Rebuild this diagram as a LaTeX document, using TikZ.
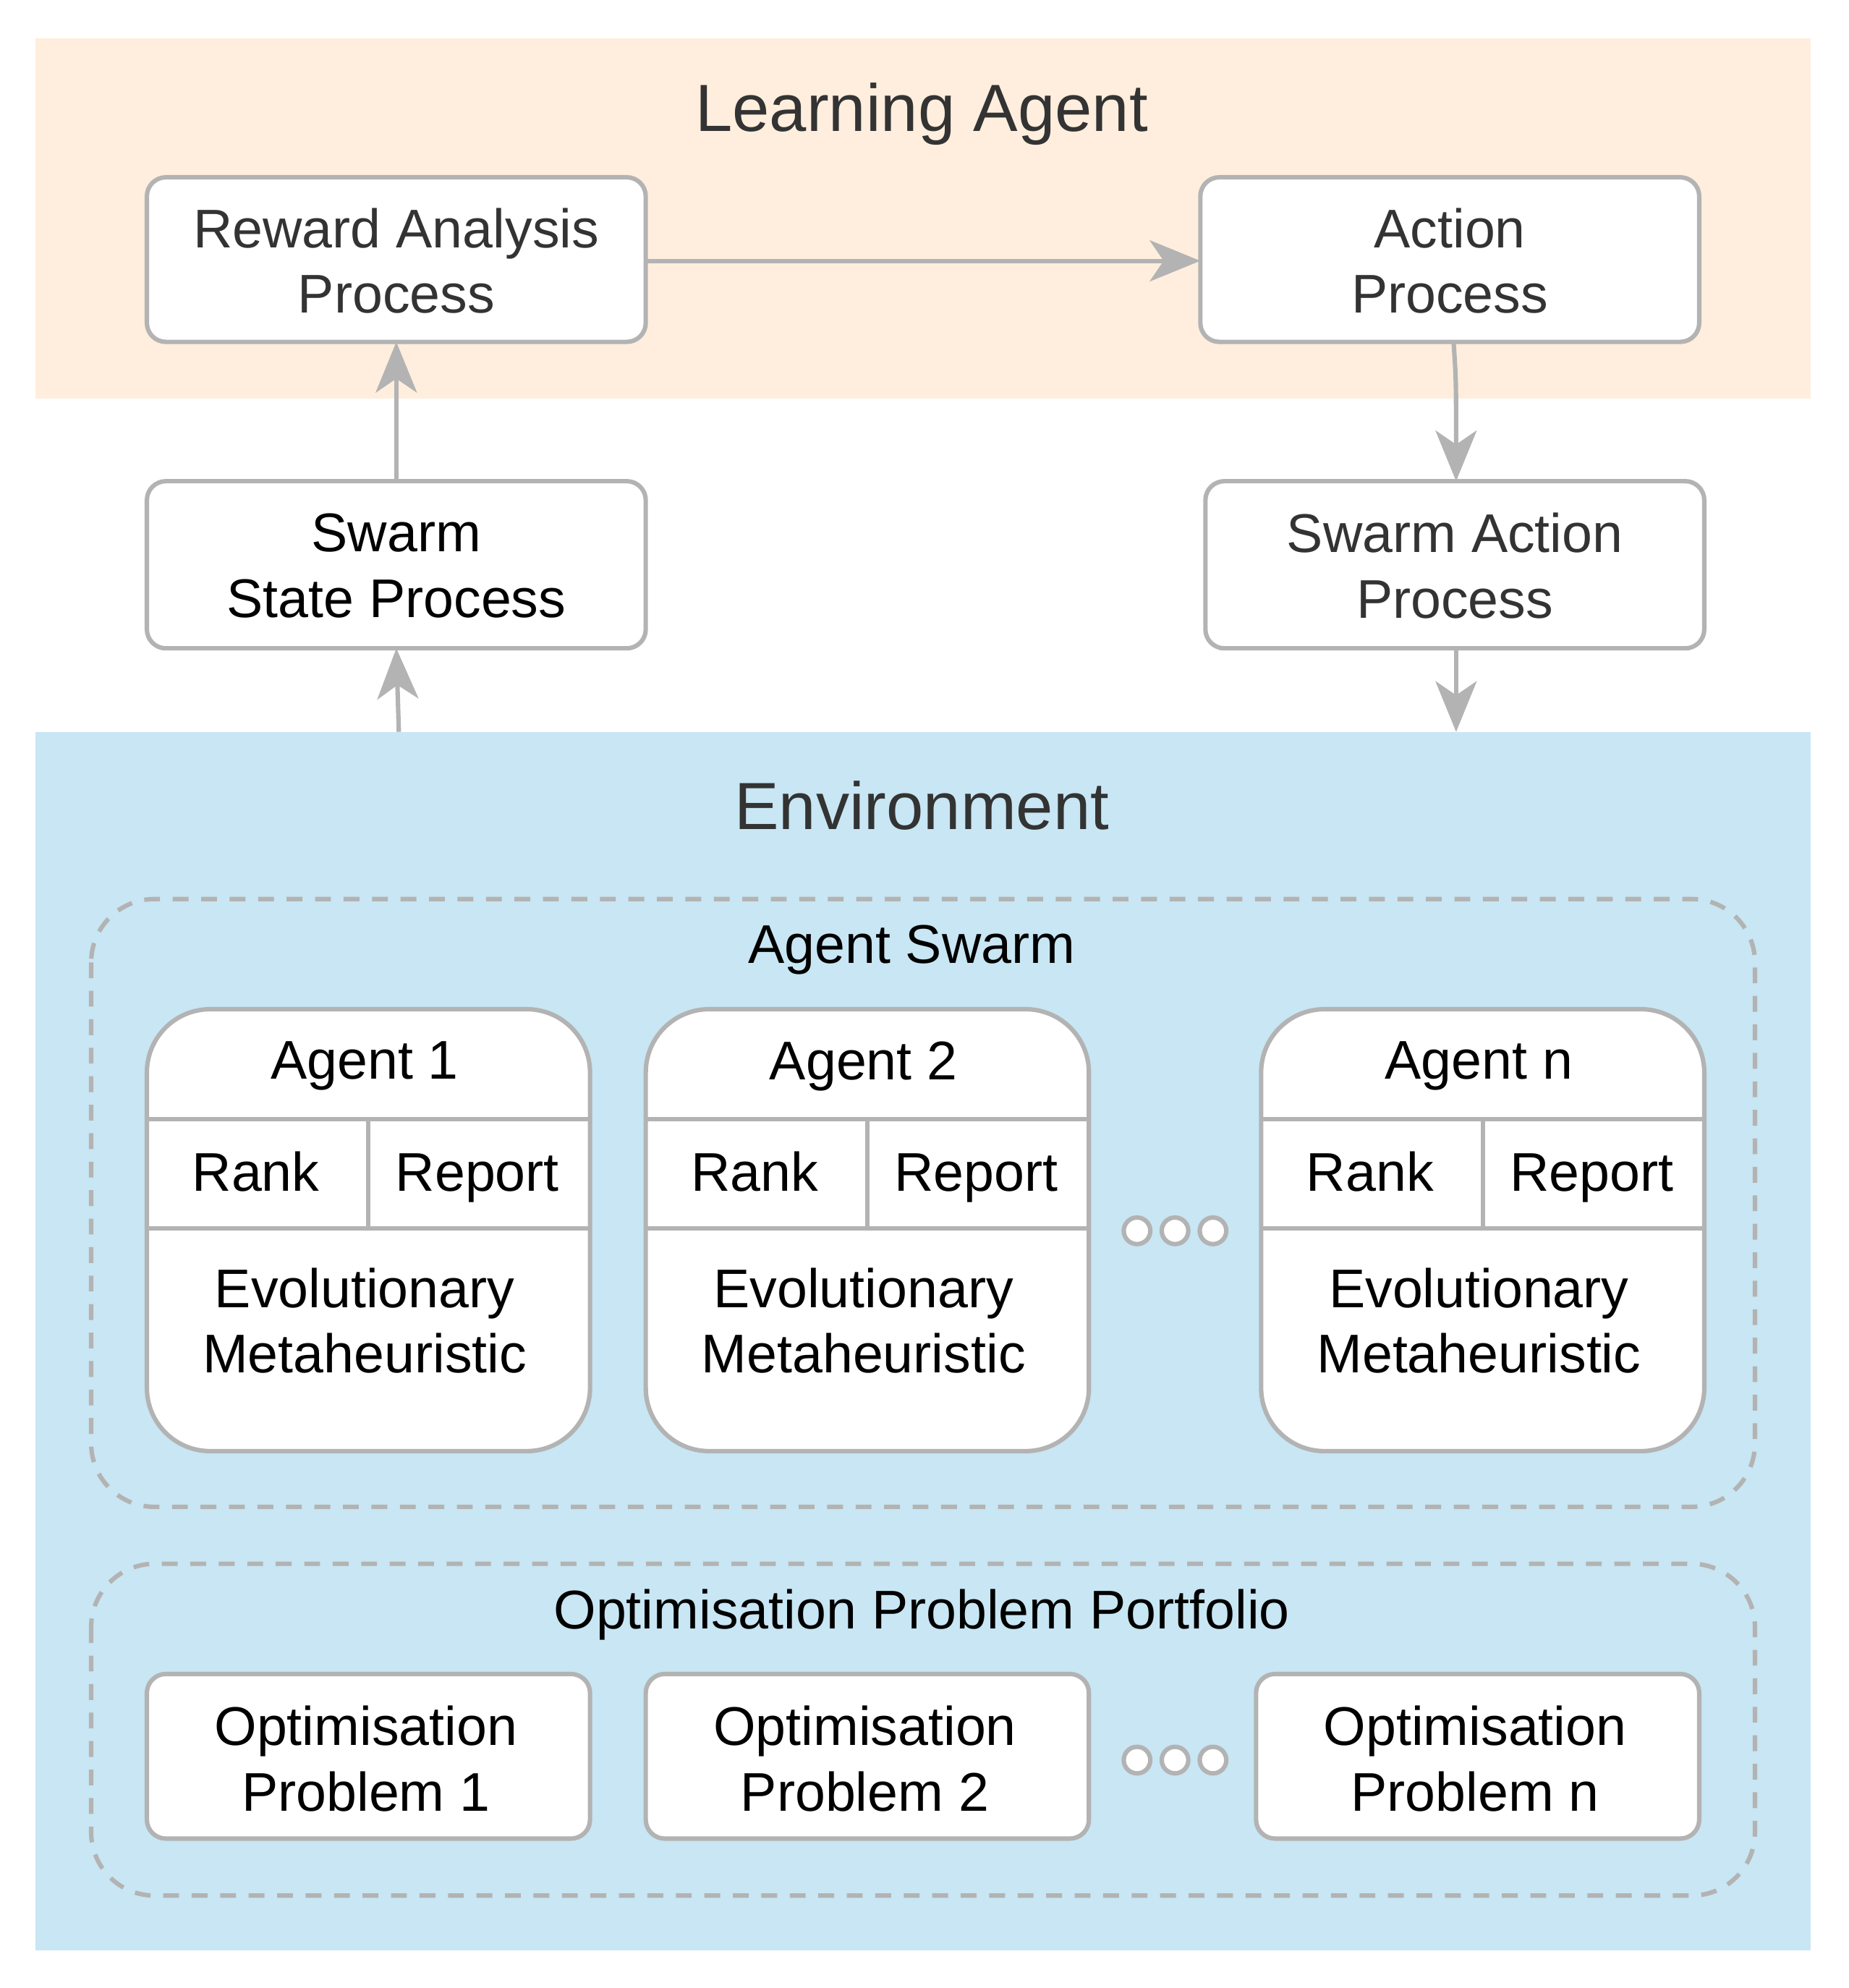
\documentclass[tikz,border=0pt]{standalone}
\usepackage{fontspec}
\setmainfont{Liberation Sans}
\usetikzlibrary{arrows.meta}
\definecolor{bd}{HTML}{B3B3B3}
\definecolor{txt}{HTML}{333333}
\definecolor{orng}{HTML}{FFEEDD}
\definecolor{blu}{HTML}{C8E6F3}
\begin{document}
\begin{tikzpicture}[x=0.02cm,y=-0.02cm,
  box/.style={draw=bd,line width=0.07cm,fill=white,rounded corners=0.3cm},
  lbl/.style={font=\fontsize{24.5}{29.5}\selectfont,align=center,text=#1},
  lbl/.default=black,
  ttl/.style={font=\fontsize{30}{35}\selectfont,text=txt},
  arr/.style={draw=bd,line width=0.07cm,-{Stealth[length=0.8cm,width=0.65cm,inset=0.22cm]}},
  dashbox/.style={draw=bd,line width=0.07cm,dash pattern=on 0.25cm off 0.2cm,rounded corners=1cm},
  dot/.style={circle,draw=bd,line width=0.07cm,fill=white,minimum size=0.42cm,inner sep=0}]
\useasboundingbox (0,0) rectangle (1460,1570);
\fill[orng] (28,30) rectangle (1430,315);
\node[ttl] (la) at (728,90) {Learning Agent};
\fill[blu] (28,578) rectangle (1430,1540);
\coordinate (envA) at (315,578);
\coordinate (envB) at (1150,578);
\node[ttl] (env) at (728,636) {Environment};
% top boxes
\draw[box] (116,140) rectangle (510,270);
\node[lbl=txt] (rwt) at (313,206) {Reward Analysis\\Process};
\draw[box] (948,140) rectangle (1342,270);
\node[lbl=txt] (act) at (1145,206) {Action\\Process};
\draw[box] (116,380) rectangle (510,512);
\node[lbl] (ss) at (313,447) {Swarm\\State Process};
\draw[box] (952,380) rectangle (1346,512);
\node[lbl=txt] (sa) at (1149,447) {Swarm Action\\Process};
\coordinate (rwR) at (510,206); \coordinate (acL) at (948,206);
\coordinate (acB) at (1148,270); \coordinate (saT) at (1150,380);
\coordinate (ssT) at (313,380); \coordinate (rwB) at (313,270);
\coordinate (ssB) at (313,512); \coordinate (saB) at (1150,512);
\draw[arr] (rwR) -- (acL);
\draw[arr] (acB) .. controls (1150,300) .. (saT);
\draw[arr] (ssT) -- (rwB);
\draw[arr] (envA) -- (ssB);
\draw[arr] (saB) -- (envB);
% agent swarm
\draw[dashbox] (72,710) rectangle (1386,1190);
\node[lbl] (asw) at (720,750) {Agent Swarm};
\foreach \x/\n/\nm in {116/1/a1,510/2/a2,996/n/an}{
  \draw[box,rounded corners=1cm] (\x,797) rectangle ++(350,349);
  \draw[bd,line width=0.07cm] (\x,884) -- ++(350,0) (\x,970) -- ++(350,0) (\x+175,884) -- (\x+175,970);
  \node[lbl] (\nm h) at (\x+172,842) {Agent \n};
  \node[lbl,text height=0.62cm,text depth=0.15cm] (\nm r) at (\x+86,929) {Rank};
  \node[lbl,text height=0.62cm,text depth=0.15cm] (\nm p) at (\x+261,929) {Report};
  \node[lbl] (\nm e) at (\x+172,1043) {Evolutionary\\Metaheuristic};
}
\foreach \x [count=\i] in {898,928,958}{\node[dot] (d\i) at (\x,972) {};}
% portfolio
\draw[dashbox] (72,1235) rectangle (1386,1497);
\node[lbl] (pf) at (728,1275) {Optimisation Problem Portfolio};
\foreach \x/\n/\nm in {116/1/p1,510/2/p2,992/n/pn}{
  \draw[box] (\x,1322) rectangle ++(350,130);
  \node[lbl] (\nm) at (\x+173,1389) {Optimisation\\Problem \n};
}
\foreach \x [count=\i] in {898,928,958}{\node[dot] (e\i) at (\x,1390) {};}
\end{tikzpicture}
\end{document}
